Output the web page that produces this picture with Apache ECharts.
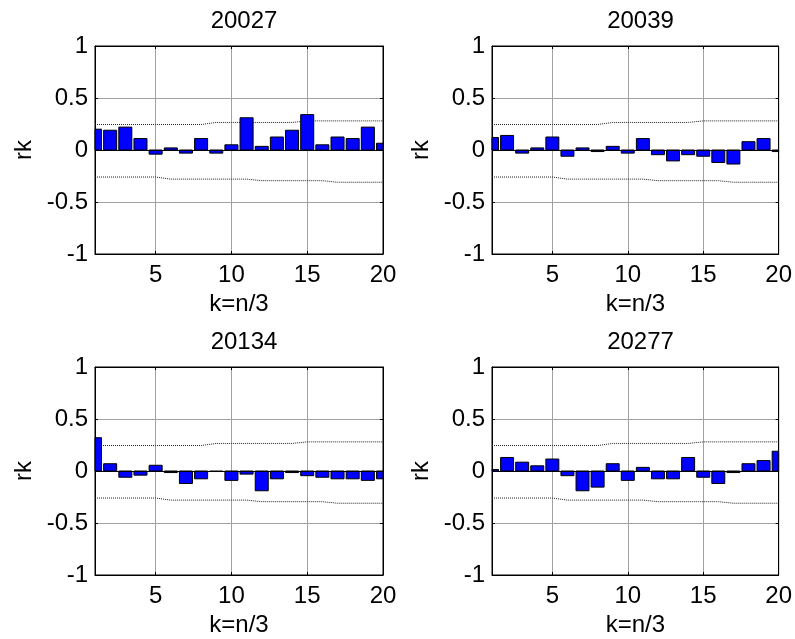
<!DOCTYPE html>
<html>
<head>
<meta charset="utf-8">
<script src="https://cdn.jsdelivr.net/npm/echarts@6/dist/echarts.min.js"></script>
<style>
  html, body { margin: 0; padding: 0; background: #fff; }
  #chart { width: 795px; height: 639px; }
</style>
</head>
<body>
<div id="chart"></div>
<script>
// lag k = n/3
const lags = [1, 2, 3, 4, 5, 6, 7, 8, 9, 10, 11, 12, 13, 14, 15, 16, 17, 18, 19, 20];
const titles = ['20027', '20039', '20134', '20277'];

// autocorrelation rk per station
const rk20027 = [0.20, 0.19, 0.22, 0.11, -0.04, 0.02, -0.03, 0.11, -0.03, 0.05, 0.31, 0.035, 0.125, 0.19, 0.34, 0.05, 0.125, 0.11, 0.22, 0.065];
const rk20039 = [0.12, 0.14, -0.03, 0.02, 0.125, -0.06, 0.02, -0.015, 0.035, -0.03, 0.11, -0.045, -0.105, -0.045, -0.06, -0.12, -0.135, 0.08, 0.11, -0.015];
const rk20134 = [0.32, 0.07, -0.06, -0.04, 0.055, -0.015, -0.12, -0.075, -0.005, -0.09, -0.03, -0.19, -0.075, -0.015, -0.045, -0.06, -0.075, -0.075, -0.09, -0.075];
const rk20277 = [0.015, 0.13, 0.085, 0.05, 0.115, -0.045, -0.19, -0.155, 0.07, -0.09, 0.035, -0.075, -0.075, 0.13, -0.06, -0.12, -0.015, 0.07, 0.1, 0.19];

// confidence bounds (dotted lines)
const upperBound = [0.245, 0.245, 0.245, 0.245, 0.245, 0.245, 0.245, 0.245, 0.265, 0.265, 0.265, 0.265, 0.265, 0.265, 0.28, 0.28, 0.28, 0.28, 0.28, 0.28];
const lowerBound = [-0.26, -0.26, -0.26, -0.26, -0.26, -0.28, -0.28, -0.28, -0.28, -0.28, -0.28, -0.295, -0.295, -0.295, -0.295, -0.295, -0.31, -0.31, -0.31, -0.31];

const xTicks = [5, 10, 15, 20];
const allRk = [rk20027, rk20039, rk20134, rk20277];

const FONT = 'Liberation Sans, Arial, sans-serif';
const FS = 24;
const HALF_BAR = 0.43; // half bar width in lag units

// subplot boxes
const boxes = [
  { left: 95, top: 46, width: 288, height: 208 },
  { left: 492, top: 46, width: 287, height: 208 },
  { left: 95, top: 367, width: 288, height: 208 },
  { left: 492, top: 367, width: 287, height: 208 }
];

const pair = arr => lags.map((k, i) => [k, arr[i]]);

// bars clipped to the axes box, like matlab
function renderBar(params, api) {
  const k = api.value(0);
  const v = api.value(1);
  const a = api.coord([k - HALF_BAR, 0]);
  const b = api.coord([k + HALF_BAR, v]);
  const cs = params.coordSys;
  const shape = echarts.graphic.clipRectByRect(
    { x: a[0], y: Math.min(a[1], b[1]), width: b[0] - a[0], height: Math.abs(b[1] - a[1]) },
    { x: cs.x, y: cs.y, width: cs.width, height: cs.height }
  );
  if (!shape) return;
  return { type: 'rect', shape: shape, style: api.style({ fill: '#0000ff', stroke: '#000', lineWidth: 1 }) };
}

const option = {
  animation: false,
  backgroundColor: '#fff',
  textStyle: { fontFamily: FONT },
  title: [],
  grid: [],
  xAxis: [],
  yAxis: [],
  series: []
};

boxes.forEach((b, i) => {
  option.title.push({
    text: titles[i],
    left: b.left + b.width / 2,
    top: b.top - 42,
    textAlign: 'center',
    textStyle: { fontFamily: FONT, fontSize: FS, fontWeight: 'normal', color: '#000' }
  });
  option.grid.push({
    left: b.left, top: b.top, width: b.width, height: b.height, containLabel: false,
    show: true, borderColor: '#000', borderWidth: 1, backgroundColor: 'transparent'
  });

  // bottom x axis with labels and grid lines
  option.xAxis.push({
    type: 'value', gridIndex: i, min: 1, max: 20, interval: 1, position: 'bottom',
    name: 'k=n/3', nameLocation: 'middle', nameGap: 38,
    nameTextStyle: { fontFamily: FONT, fontSize: FS, color: '#000' },
    axisLine: { show: true, onZero: false, lineStyle: { color: '#000', width: 1 } },
    axisTick: { show: true, inside: true, length: 3, customValues: xTicks, lineStyle: { color: '#000' } },
    axisLabel: { show: true, customValues: xTicks, margin: 9, fontFamily: FONT, fontSize: FS, color: '#000' },
    splitLine: { show: true, lineStyle: { color: '#a0a0a0', width: 1 } }
  });
  // top x axis, ticks only
  option.xAxis.push({
    type: 'value', gridIndex: i, min: 1, max: 20, interval: 1, position: 'top',
    axisLine: { show: true, onZero: false, lineStyle: { color: '#000', width: 1 } },
    axisTick: { show: true, inside: true, length: 3, customValues: xTicks, lineStyle: { color: '#000' } },
    axisLabel: { show: false },
    splitLine: { show: false }
  });

  option.yAxis.push({
    type: 'value', gridIndex: i, min: -1, max: 1, interval: 0.5, position: 'left',
    name: 'rk', nameLocation: 'middle', nameGap: 59, nameRotate: 90,
    nameTextStyle: { fontFamily: FONT, fontSize: FS, color: '#000' },
    axisLine: { show: true, onZero: false, lineStyle: { color: '#000', width: 1 } },
    axisTick: { show: true, inside: true, length: 3, lineStyle: { color: '#000' } },
    axisLabel: { show: true, margin: 7, fontFamily: FONT, fontSize: FS, color: '#000' },
    splitLine: { show: true, lineStyle: { color: '#a0a0a0', width: 1 } }
  });
  option.yAxis.push({
    type: 'value', gridIndex: i, min: -1, max: 1, interval: 0.5, position: 'right',
    axisLine: { show: true, onZero: false, lineStyle: { color: '#000', width: 1 } },
    axisTick: { show: true, inside: true, length: 3, lineStyle: { color: '#000' } },
    axisLabel: { show: false },
    splitLine: { show: false }
  });

  option.series.push({
    type: 'custom',
    xAxisIndex: i * 2, yAxisIndex: i * 2,
    data: pair(allRk[i]),
    renderItem: renderBar,
    encode: { x: 0, y: 1 },
    z: 3
  });
  // zero baseline
  option.series.push({
    type: 'line',
    xAxisIndex: i * 2, yAxisIndex: i * 2,
    data: [],
    markLine: {
      silent: true, symbol: 'none', label: { show: false },
      lineStyle: { color: '#000', width: 1, type: 'solid' },
      data: [{ yAxis: 0 }]
    },
    z: 4
  });
  [upperBound, lowerBound].forEach(bound => {
    option.series.push({
      type: 'line',
      xAxisIndex: i * 2, yAxisIndex: i * 2,
      data: pair(bound),
      showSymbol: false, symbol: 'none',
      lineStyle: { color: '#222', width: 1, type: 'dotted' },
      z: 2
    });
  });
});

const chart = echarts.init(document.getElementById('chart'), null, { renderer: 'canvas' });
chart.setOption(option);
</script>
</body>
</html>
